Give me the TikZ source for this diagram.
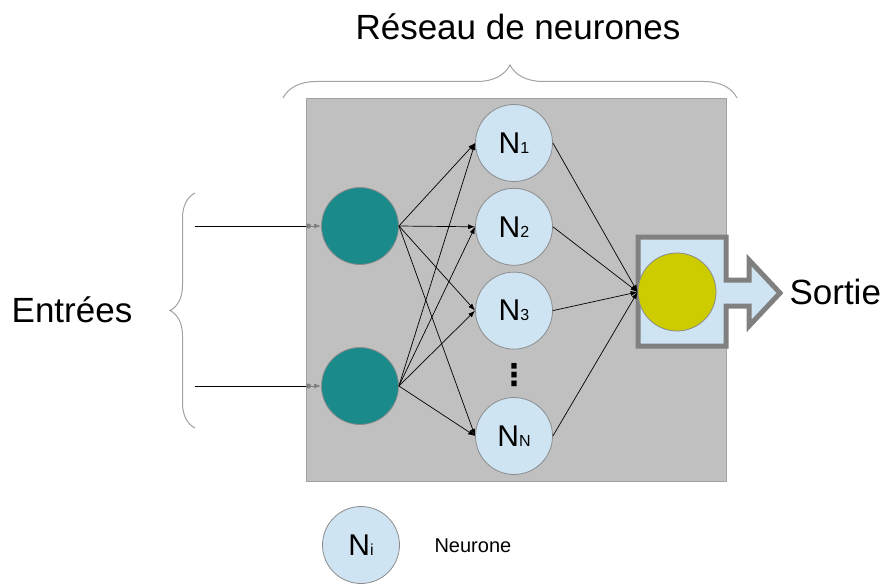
\documentclass[tikz,border=0pt]{standalone}
\usepackage{fontspec}
\setmainfont{Liberation Sans}
\newfontfamily\symb{DejaVu Sans}
\usetikzlibrary{positioning,arrows.meta,decorations.pathreplacing}
\definecolor{boxgrey}{HTML}{C0C0C0}
\definecolor{edgegrey}{HTML}{A2A2A2}
\definecolor{ringgrey}{HTML}{8C8C8C}
\definecolor{outgrey}{HTML}{808080}
\definecolor{neurblue}{HTML}{CFE4F2}
\definecolor{entteal}{HTML}{1B8A8A}
\definecolor{outyellow}{HTML}{CCCC00}
\newcommand{\nlab}[1]{{\fontsize{30}{30}\selectfont N}{\fontsize{16}{16}\selectfont #1}}

\begin{document}
\begin{tikzpicture}[x=1pt,y=-1pt,
    neurone/.style={circle,draw=ringgrey,fill=neurblue,line width=0.8pt,minimum size=77pt,inner sep=0pt},
    entree/.style={neurone,fill=entteal},
    lien/.style={-{Latex[length=7pt,width=5pt]},line width=0.7pt},
    accolade/.style={draw=edgegrey,line width=1pt,decorate,decoration={brace,amplitude=#1}},
    titre/.style={font=\fontsize{35}{40}\selectfont}]
    \useasboundingbox (0,0) rectangle (882,583);
    \fill[boxgrey,draw=edgegrey,line width=1pt] (306,99) rectangle (726,481);
    \node[entree] (e1) at (360,226) {};
    \node[entree] (e2) at (360,386) {};
    \node[neurone] (n1) at (514,143) {\nlab{1}};
    \node[neurone,below=6pt of n1] (n2) {\nlab{2}};
    \node[neurone,below=6pt of n2] (n3) {\nlab{3}};
    \node[neurone] (nn) at (514,436) {\nlab{N}};
    \node[font=\symb\bfseries\fontsize{30}{30}\selectfont] (pts) at (514,375) {⋮};
    \filldraw[fill=neurblue,draw=outgrey,line width=5pt,line join=miter]
        (638,237) -- (726,237) -- (726,280) -- (749,280) -- (749,260) -- (780,293)
        -- (749,326) -- (749,306) -- (726,306) -- (726,346) -- (638,346) -- cycle;
    \node[neurone,fill=outyellow,minimum size=78pt] (s) at (677,292) {};
    \foreach \e in {e1,e2}
        \foreach \n in {n1,n2,n3,nn}
            \draw[lien] (\e.east) -- (\n.west);
    \foreach \n in {n1,n2,n3,nn}
        \draw[lien] (\n.east) -- (s.west);
    \coordinate (a1) at (195,226);
    \coordinate (b1) at (306,226);
    \coordinate (a2) at (195,386);
    \coordinate (b2) at (306,386);
    \draw[line width=0.8pt] (a1) -- (b1);
    \draw[line width=0.8pt] (a2) -- (b2);
    \draw[outgrey,line width=0.9pt,{Circle[length=5pt]}-{Latex[length=7pt,width=5pt]}] (b1) -- (e1.west);
    \draw[outgrey,line width=0.9pt,{Circle[length=5pt]}-{Latex[length=7pt,width=5pt]}] (b2) -- (e2.west);
    \coordinate (g1) at (195,428);
    \coordinate (g2) at (195,193);
    \draw[accolade=25pt] (g1) -- (g2);
    \coordinate (h1) at (283,98);
    \coordinate (h2) at (737,98);
    \draw[accolade=33pt] (h1) -- (h2);
    \node[titre] (reseau) at (518,27) {Réseau de neurones};
    \node[titre] (entrees) at (72,310) {Entrées};
    \node[titre,anchor=west] (sortie) at (786,292) {Sortie};
    \node[neurone] (leg) at (361,545) {\nlab{i}};
    \node[anchor=west,font=\fontsize{20}{24}\selectfont] (legtxt) at (431,546) {Neurone};
\end{tikzpicture}
\end{document}
